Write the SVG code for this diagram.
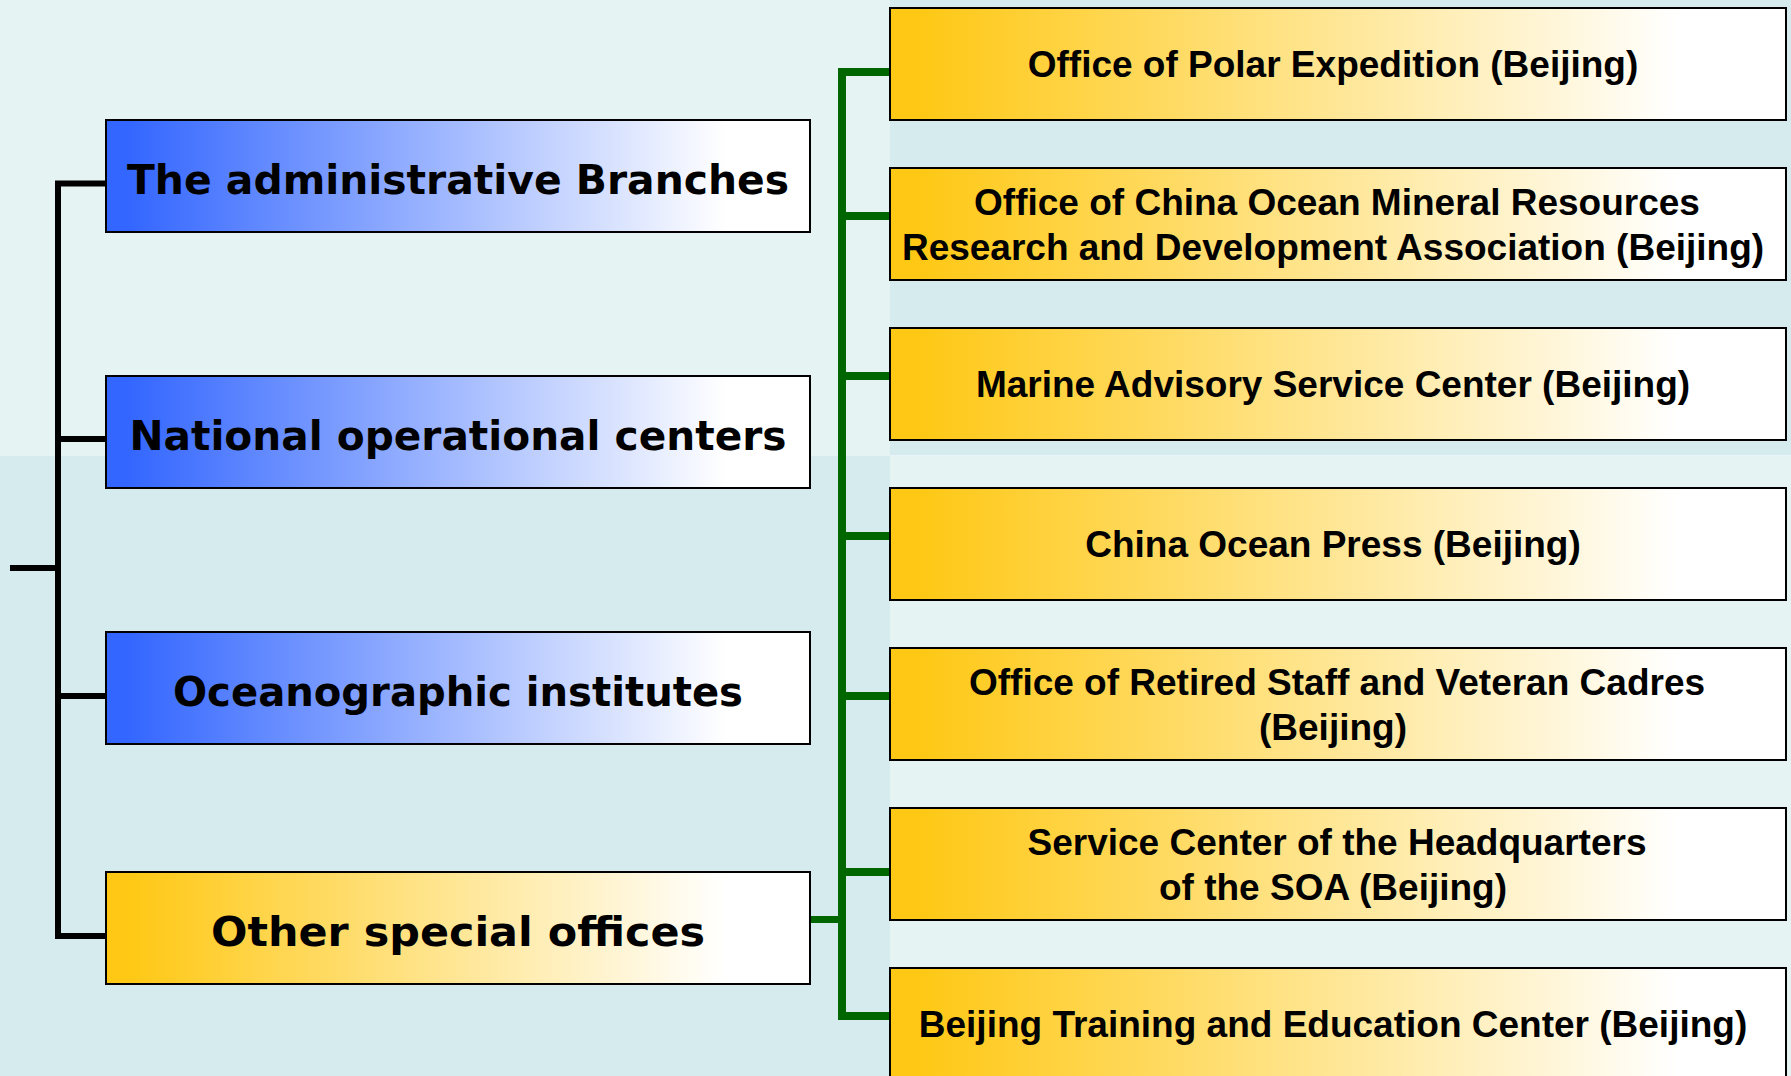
<svg xmlns="http://www.w3.org/2000/svg" width="1791" height="1076" viewBox="0 0 1791 1076">
  <style>
    .bg-light { fill: #E5F3F3; }
    .bg-dark { fill: #D6EBEE; }
    .lbox { stroke: #000; stroke-width: 2; fill: url(#blueGrad); }
    .obox { stroke: #000; stroke-width: 2; fill: url(#orangeGrad); }
    .ltext { font-family: "DejaVu Sans", "Liberation Sans", sans-serif; font-weight: bold; font-size: 41px; fill: #000; text-anchor: middle; }
    .rtext { font-family: "Liberation Sans", Arial, sans-serif; font-weight: bold; font-size: 37px; fill: #000; text-anchor: middle; }
    .blk { fill: none; stroke: #000; stroke-width: 6; stroke-linejoin: miter; }
    .grn { fill: none; stroke: #006600; stroke-width: 8; stroke-linejoin: miter; }
  </style>
  <defs>
    <linearGradient id="blueGrad" x1="0" y1="0" x2="1" y2="0">
      <stop offset="0.03" stop-color="#3366FF"/>
      <stop offset="0.88" stop-color="#FFFFFF"/>
    </linearGradient>
    <linearGradient id="orangeGrad" x1="0" y1="0" x2="1" y2="0">
      <stop offset="0.03" stop-color="#FFC814"/>
      <stop offset="0.88" stop-color="#FFFFFF"/>
    </linearGradient>
  </defs>

  <g id="background">
    <rect class="bg-light" x="0" y="0" width="890" height="455.5"/>
    <rect class="bg-dark" x="0" y="455.5" width="890" height="620.5"/>
    <rect class="bg-dark" x="890" y="0" width="901" height="455.5"/>
    <rect class="bg-light" x="890" y="455.5" width="901" height="620.5"/>
  </g>

  <g id="connectors">
    <path class="blk" d="M10,568 H58"/>
    <path class="blk" d="M106,183.5 H58 V936 H106"/>
    <path class="blk" d="M58,439 H106"/>
    <path class="blk" d="M58,696 H106"/>
    <path class="grn" d="M890,72 H842 V1016 H890"/>
    <path class="grn" d="M842,216 H890"/>
    <path class="grn" d="M842,376 H890"/>
    <path class="grn" d="M842,536 H890"/>
    <path class="grn" d="M842,696 H890"/>
    <path class="grn" d="M842,872 H890"/>
    <path class="grn" d="M810,919.5 H842" style="stroke-width:7"/>
  </g>

  <g id="node-admin">
    <rect class="lbox" x="106" y="120" width="704" height="112"/>
    <text class="ltext" x="458" y="193.5" textLength="662" lengthAdjust="spacingAndGlyphs">The administrative Branches</text>
  </g>
  <g id="node-national">
    <rect class="lbox" x="106" y="376" width="704" height="112"/>
    <text class="ltext" x="458" y="449.5" textLength="657" lengthAdjust="spacingAndGlyphs">National operational centers</text>
  </g>
  <g id="node-institutes">
    <rect class="lbox" x="106" y="632" width="704" height="112"/>
    <text class="ltext" x="458" y="705.5" textLength="570" lengthAdjust="spacingAndGlyphs">Oceanographic institutes</text>
  </g>
  <g id="node-other">
    <rect class="obox" x="106" y="872" width="704" height="112"/>
    <text class="ltext" x="458" y="945.5" textLength="494" lengthAdjust="spacingAndGlyphs">Other special offices</text>
  </g>

  <g id="node-polar">
    <rect class="obox" x="890" y="8" width="896" height="112"/>
    <text class="rtext" x="1333" y="77">Office of Polar Expedition (Beijing)</text>
  </g>
  <g id="node-mineral">
    <rect class="obox" x="890" y="168" width="896" height="112"/>
    <text class="rtext" x="1337" y="214.5">Office of China Ocean Mineral Resources</text>
    <text class="rtext" x="1333" y="259.5">Research and Development Association (Beijing)</text>
  </g>
  <g id="node-advisory">
    <rect class="obox" x="890" y="328" width="896" height="112"/>
    <text class="rtext" x="1333" y="397">Marine Advisory Service Center (Beijing)</text>
  </g>
  <g id="node-press">
    <rect class="obox" x="890" y="488" width="896" height="112"/>
    <text class="rtext" x="1333" y="557">China Ocean Press (Beijing)</text>
  </g>
  <g id="node-retired">
    <rect class="obox" x="890" y="648" width="896" height="112"/>
    <text class="rtext" x="1337" y="694.5">Office of Retired Staff and Veteran Cadres</text>
    <text class="rtext" x="1333" y="739.5">(Beijing)</text>
  </g>
  <g id="node-service">
    <rect class="obox" x="890" y="808" width="896" height="112"/>
    <text class="rtext" x="1337" y="854.5">Service Center of the Headquarters</text>
    <text class="rtext" x="1333" y="899.5">of the SOA (Beijing)</text>
  </g>
  <g id="node-training">
    <rect class="obox" x="890" y="968" width="896" height="112"/>
    <text class="rtext" x="1333" y="1037">Beijing Training and Education Center (Beijing)</text>
  </g>
</svg>
